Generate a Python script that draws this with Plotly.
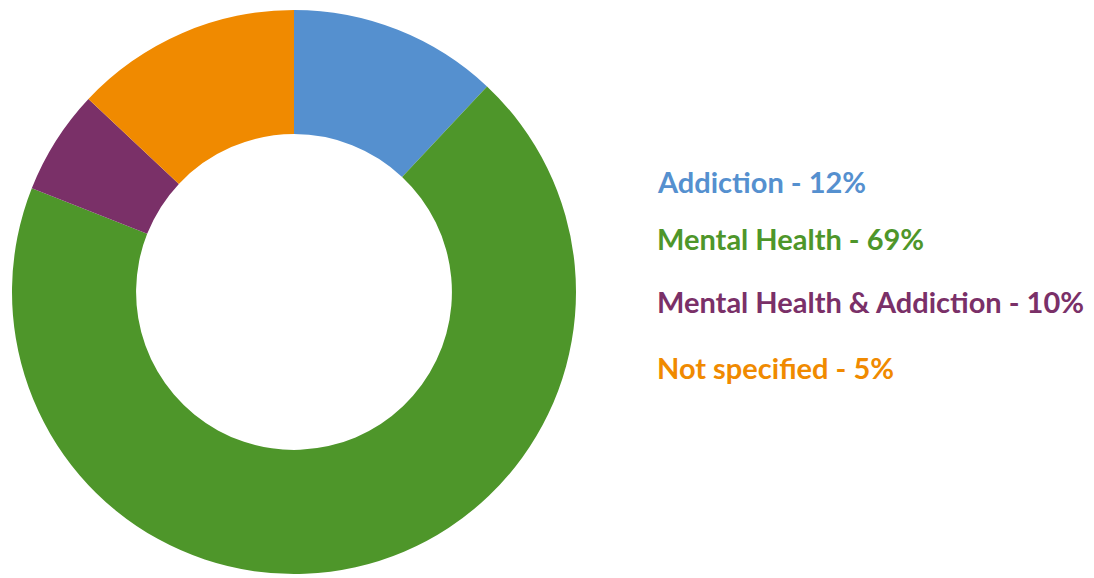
import plotly.graph_objects as go

categories = ["Addiction", "Mental Health", "Mental Health & Addiction", "Not specified"]
slice_values = [12, 69, 6, 13]
label_percents = ["12%", "69%", "10%", "5%"]
colors = ["#5590CF", "#4E962A", "#7A3068", "#F08A00"]

W, H = 1094, 578
cx, cy, R = 294, 292, 282

fig = go.Figure(go.Pie(
    labels=categories,
    values=slice_values,
    hole=0.56,
    sort=False,
    direction="clockwise",
    rotation=0,
    marker=dict(colors=colors, line=dict(width=0)),
    textinfo="none",
    hoverinfo="label+percent",
    showlegend=False,
    domain=dict(x=[(cx - R) / W, (cx + R) / W], y=[(H - cy - R) / H, (H - cy + R) / H]),
))

label_y = [181, 238, 301, 367]
annotations = []
for cat, pct, col, yy in zip(categories, label_percents, colors, label_y):
    annotations.append(dict(
        text=f"{cat} - {pct}", x=655 / W, y=1 - yy / H, xref="paper", yref="paper",
        xanchor="left", yanchor="middle", showarrow=False,
        font=dict(family="Lato", size=29, color=col, weight="bold"),
    ))

fig.update_layout(
    width=W, height=H,
    margin=dict(l=0, r=0, t=0, b=0),
    paper_bgcolor="white", plot_bgcolor="white",
    annotations=annotations,
)
fig.write_html("out.html")
